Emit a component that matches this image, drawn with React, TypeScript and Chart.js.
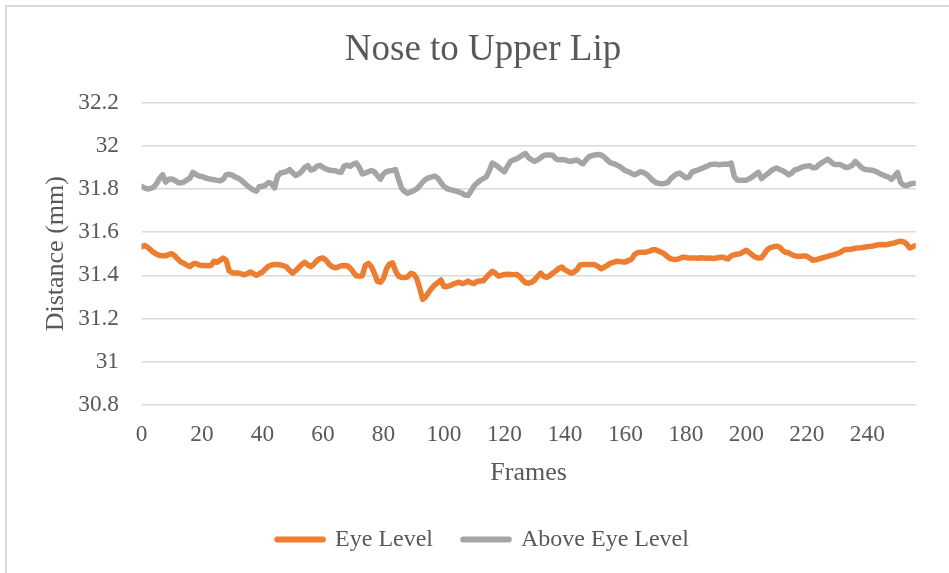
import React, { useEffect, useRef } from "react";
import { Chart, registerables } from "chart.js";

Chart.register(...registerables);

const TITLE = "Nose to Upper Lip";
const X_TITLE = "Frames";
const Y_TITLE = "Distance (mm)";
const SERIES_NAMES = ["Eye Level", "Above Eye Level"];
const SERIES_COLORS = ["#ED7D31", "#A5A5A5"];
const X_TICKS = [0, 20, 40, 60, 80, 100, 120, 140, 160, 180, 200, 220, 240];
const Y_TICKS = [30.8, 31, 31.2, 31.4, 31.6, 31.8, 32, 32.2];

const EYE_LEVEL = [
  31.532, 31.538, 31.530, 31.518, 31.506, 31.498, 31.492, 31.490, 31.490, 31.496,
  31.500, 31.490, 31.475, 31.462, 31.455, 31.447, 31.440, 31.452, 31.455, 31.448,
  31.445, 31.445, 31.444, 31.446, 31.465, 31.460, 31.470, 31.480, 31.470, 31.420,
  31.412, 31.410, 31.410, 31.406, 31.402, 31.408, 31.415, 31.408, 31.400, 31.408,
  31.415, 31.430, 31.442, 31.448, 31.450, 31.450, 31.448, 31.444, 31.438, 31.422,
  31.410, 31.422, 31.436, 31.450, 31.460, 31.448, 31.440, 31.452, 31.468, 31.478,
  31.480, 31.470, 31.452, 31.440, 31.435, 31.438, 31.444, 31.445, 31.444, 31.434,
  31.416, 31.398, 31.396, 31.398, 31.445, 31.455, 31.440, 31.410, 31.372, 31.368,
  31.385, 31.430, 31.452, 31.458, 31.420, 31.396, 31.390, 31.390, 31.392, 31.408,
  31.405, 31.385, 31.340, 31.288, 31.300, 31.322, 31.340, 31.355, 31.366, 31.378,
  31.348, 31.348, 31.352, 31.358, 31.364, 31.368, 31.362, 31.365, 31.373, 31.365,
  31.362, 31.372, 31.373, 31.374, 31.390, 31.405, 31.418, 31.410, 31.396, 31.400,
  31.404, 31.405, 31.404, 31.403, 31.404, 31.395, 31.378, 31.365, 31.363, 31.368,
  31.378, 31.395, 31.410, 31.395, 31.390, 31.398, 31.410, 31.420, 31.432, 31.438,
  31.425, 31.418, 31.410, 31.415, 31.426, 31.448, 31.450, 31.450, 31.450, 31.450,
  31.448, 31.440, 31.430, 31.438, 31.446, 31.455, 31.460, 31.465, 31.464, 31.462,
  31.462, 31.468, 31.474, 31.495, 31.505, 31.507, 31.507, 31.508, 31.512, 31.518,
  31.518, 31.512, 31.506, 31.498, 31.485, 31.476, 31.474, 31.473, 31.478, 31.484,
  31.482, 31.480, 31.480, 31.480, 31.479, 31.481, 31.480, 31.479, 31.480, 31.478,
  31.480, 31.483, 31.484, 31.480, 31.476, 31.490, 31.495, 31.498, 31.500, 31.508,
  31.516, 31.505, 31.494, 31.484, 31.480, 31.481, 31.500, 31.520, 31.528, 31.532,
  31.535, 31.530, 31.515, 31.506, 31.504, 31.496, 31.490, 31.488, 31.488, 31.490,
  31.488, 31.480, 31.470, 31.472, 31.476, 31.480, 31.484, 31.488, 31.492, 31.496,
  31.500, 31.506, 31.515, 31.520, 31.520, 31.522, 31.525, 31.527, 31.528, 31.530,
  31.532, 31.534, 31.536, 31.540, 31.542, 31.543, 31.541, 31.544, 31.547, 31.550,
  31.555, 31.558, 31.555, 31.545, 31.527, 31.532, 31.538,
];

const ABOVE_EYE_LEVEL = [
  31.812, 31.805, 31.800, 31.803, 31.808, 31.825, 31.850, 31.866, 31.832, 31.845,
  31.846, 31.840, 31.830, 31.828, 31.832, 31.842, 31.850, 31.877, 31.868, 31.860,
  31.858, 31.852, 31.848, 31.845, 31.843, 31.840, 31.838, 31.845, 31.866, 31.868,
  31.864, 31.855, 31.850, 31.840, 31.828, 31.815, 31.805, 31.795, 31.790, 31.812,
  31.812, 31.818, 31.830, 31.825, 31.805, 31.860, 31.874, 31.877, 31.882, 31.890,
  31.875, 31.862, 31.870, 31.882, 31.900, 31.908, 31.888, 31.892, 31.905, 31.910,
  31.900, 31.893, 31.888, 31.886, 31.885, 31.880, 31.878, 31.906, 31.910, 31.905,
  31.915, 31.920, 31.900, 31.870, 31.874, 31.880, 31.886, 31.880, 31.862, 31.846,
  31.870, 31.880, 31.884, 31.886, 31.890, 31.845, 31.804, 31.788, 31.780, 31.786,
  31.792, 31.800, 31.815, 31.832, 31.845, 31.852, 31.856, 31.860, 31.850, 31.830,
  31.812, 31.802, 31.797, 31.794, 31.790, 31.786, 31.780, 31.772, 31.770, 31.792,
  31.815, 31.828, 31.840, 31.848, 31.856, 31.885, 31.920, 31.912, 31.902, 31.890,
  31.880, 31.905, 31.928, 31.935, 31.940, 31.948, 31.958, 31.964, 31.945, 31.935,
  31.928, 31.935, 31.945, 31.955, 31.958, 31.958, 31.956, 31.940, 31.935, 31.937,
  31.935, 31.930, 31.928, 31.932, 31.934, 31.925, 31.917, 31.935, 31.950, 31.955,
  31.958, 31.960, 31.958, 31.948, 31.935, 31.922, 31.918, 31.912, 31.905, 31.895,
  31.885, 31.880, 31.872, 31.866, 31.872, 31.880, 31.876, 31.868, 31.855, 31.840,
  31.830, 31.826, 31.824, 31.826, 31.830, 31.848, 31.860, 31.870, 31.874, 31.862,
  31.852, 31.855, 31.878, 31.884, 31.888, 31.894, 31.900, 31.906, 31.913, 31.915,
  31.915, 31.912, 31.914, 31.916, 31.915, 31.920, 31.858, 31.842, 31.840, 31.840,
  31.841, 31.848, 31.856, 31.868, 31.877, 31.848, 31.860, 31.870, 31.882, 31.892,
  31.897, 31.890, 31.885, 31.876, 31.866, 31.874, 31.888, 31.892, 31.898, 31.904,
  31.906, 31.908, 31.898, 31.900, 31.913, 31.922, 31.930, 31.938, 31.925, 31.915,
  31.913, 31.914, 31.906, 31.900, 31.902, 31.910, 31.928, 31.915, 31.900, 31.892,
  31.889, 31.888, 31.886, 31.880, 31.872, 31.866, 31.860, 31.855, 31.845, 31.860,
  31.877, 31.830, 31.818, 31.815, 31.822, 31.826, 31.827,
];

const FONT = "'Liberation Serif', 'Times New Roman', serif";
const TEXT = "#595959";
const CANVAS_W = 966;
const CANVAS_H = 573;

const framePlugin = {
  id: "frame",
  beforeDraw(chart: any) {
    const { ctx } = chart;
    ctx.save();
    ctx.fillStyle = "#ffffff";
    ctx.fillRect(0, 0, chart.width, chart.height);
    ctx.strokeStyle = "#d9d9d9";
    ctx.lineWidth = 2;
    ctx.strokeRect(6, 6, chart.width + 40, chart.height + 40);
    ctx.restore();
  },
};

export default function App() {
  const ref = useRef<HTMLCanvasElement | null>(null);

  useEffect(() => {
    if (!ref.current) return;
    const toPoints = (arr: number[]) => arr.map((v, i) => ({ x: i, y: v }));
    const series = [EYE_LEVEL, ABOVE_EYE_LEVEL];
    const chart = new Chart(ref.current, {
      type: "line",
      data: {
        datasets: series.map((s, i) => ({
          label: SERIES_NAMES[i],
          data: toPoints(s),
          borderColor: SERIES_COLORS[i],
          backgroundColor: SERIES_COLORS[i],
          borderWidth: 5.5,
          pointRadius: 0,
          tension: 0,
          borderCapStyle: "round",
          borderJoinStyle: "round",
        })),
      },
      options: {
        animation: false,
        responsive: false,
        devicePixelRatio: 1,
        layout: { padding: { left: 0, right: 0, top: 0, bottom: 11.5 } },
        plugins: {
          title: {
            display: true,
            text: TITLE,
            color: TEXT,
            font: { family: FONT, size: 37, weight: "normal" },
            padding: { top: 27.8, bottom: 30.5 },
          },
          legend: {
            position: "bottom",
            labels: {
              color: TEXT,
              font: { family: FONT, size: 24 },
              boxWidth: 46,
              boxHeight: 0.5,
              padding: 30,
            },
          },
          tooltip: { enabled: false },
        },
        scales: {
          x: {
            type: "linear",
            min: 0,
            max: EYE_LEVEL.length - 1,
            afterBuildTicks: (s: any) => {
              s.ticks = X_TICKS.map((v) => ({ value: v }));
            },
            afterFit: (s: any) => {
              s.height = 92.8;
            },
            grid: { display: false, drawTicks: false },
            border: { display: false },
            ticks: {
              color: TEXT,
              font: { family: FONT, size: 23.3 },
              padding: 16,
              maxRotation: 0,
              autoSkip: false,
              callback: (v: any) => String(v),
            },
            title: {
              display: true,
              text: X_TITLE,
              color: TEXT,
              font: { family: FONT, size: 26 },
              padding: { top: 0, bottom: 9 },
            },
          },
          y: {
            type: "linear",
            position: "left",
            min: 30.8,
            max: 32.2,
            afterBuildTicks: (s: any) => {
              s.ticks = Y_TICKS.map((v) => ({ value: v }));
            },
            afterFit: (s: any) => {
              s.width = 141.5;
            },
            grid: { color: "#d9d9d9", lineWidth: 1.5, drawTicks: false },
            border: { display: false },
            ticks: {
              color: TEXT,
              font: { family: FONT, size: 23.3 },
              padding: 22.5,
              autoSkip: false,
              callback: (v: any) => String(v),
            },
            title: {
              display: true,
              text: Y_TITLE,
              color: TEXT,
              font: { family: FONT, size: 26 },
              padding: { top: 40.4, bottom: 0 },
            },
          },
          yRight: {
            type: "linear",
            position: "right",
            display: true,
            afterFit: (s: any) => {
              s.width = CANVAS_W - 915.7;
            },
            grid: { display: false, drawTicks: false },
            border: { display: false },
            ticks: { display: false },
          },
        },
      },
      plugins: [framePlugin],
    } as any);
    return () => chart.destroy();
  }, []);

  return (
    <div
      style={{
        position: "fixed",
        left: 0,
        top: 0,
        width: 949,
        height: 573,
        overflow: "hidden",
        background: "#ffffff",
      }}
    >
      <canvas
        ref={ref}
        width={CANVAS_W}
        height={CANVAS_H}
        style={{ display: "block", width: CANVAS_W, height: CANVAS_H }}
      />
    </div>
  );
}
